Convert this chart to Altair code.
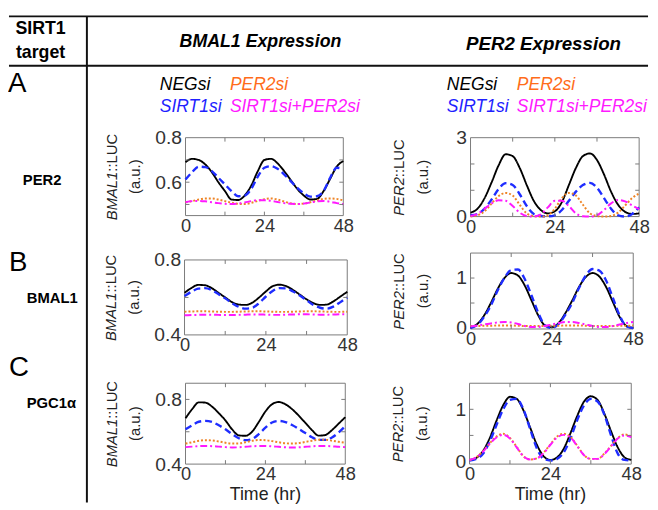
import altair as alt
import pandas as pd

FONT = "Liberation Sans, Arial, sans-serif"
FRAME = "#7a7a7a"
W, H = 650, 494

T = list(range(0, 49, 2))
SERIES = ["NEGsi", "SIRT1si", "PER2si", "SIRT1si+PER2si"]
LINE_COLORS = ["#000000", "#1f2dff", "#ee8426", "#ff19ff"]
LINE_DASH = [[1, 0], [7, 4], [2, 2], [7, 3, 2, 3]]
LINE_WIDTH = [1.9, 2.4, 2.0, 2.0]

LEG_ROW1 = ["NEGsi", "PER2si"]
LEG_ROW2 = ["SIRT1si", "SIRT1si+PER2si"]
LEG_COLORS1 = ["#000000", "#ff6c1a"]
LEG_COLORS2 = ["#1f1fff", "#ff1aff"]

ROW_LETTERS = ["A", "B", "C"]
ROW_TARGETS = ["PER2", "BMAL1", "PGC1\u03b1"]
HEADERS = ["BMAL1 Expression", "PER2 Expression"]
CORNER = ["SIRT1", "target"]

X_LABELS = [0, 24, 48]
X_MINOR = [12, 24, 36]

# ---------- Row A (target PER2) ----------
A_BMAL1 = [
    [0.69, 0.705, 0.70, 0.68, 0.645, 0.60, 0.56, 0.522, 0.52, 0.54, 0.585, 0.65, 0.70,
     0.705, 0.685, 0.65, 0.61, 0.57, 0.54, 0.522, 0.525, 0.56, 0.615, 0.67, 0.695],
    [0.612, 0.645, 0.67, 0.668, 0.65, 0.62, 0.59, 0.56, 0.537, 0.54, 0.57, 0.625, 0.665,
     0.672, 0.66, 0.635, 0.605, 0.575, 0.55, 0.535, 0.537, 0.56, 0.62, 0.665, 0.66],
    [0.51, 0.515, 0.522, 0.527, 0.527, 0.522, 0.515, 0.508, 0.503, 0.502, 0.507, 0.516, 0.524,
     0.527, 0.522, 0.513, 0.505, 0.502, 0.504, 0.51, 0.518, 0.525, 0.527, 0.525, 0.518],
    [0.51, 0.515, 0.516, 0.514, 0.51, 0.506, 0.503, 0.502, 0.504, 0.509, 0.515, 0.519, 0.519,
     0.516, 0.511, 0.506, 0.503, 0.502, 0.504, 0.509, 0.514, 0.516, 0.512, 0.506, 0.501],
]
A_PER2 = [
    [0.15, 0.3, 0.7, 1.3, 1.95, 2.37, 2.3, 1.85, 1.2, 0.6, 0.25, 0.12, 0.2,
     0.55, 1.2, 1.85, 2.3, 2.4, 2.15, 1.6, 0.95, 0.45, 0.18, 0.1, 0.12],
    [0.05, 0.1, 0.3, 0.65, 1.05, 1.27, 1.2, 0.85, 0.4, 0.1, 0.02, 0.01, 0.05,
     0.25, 0.6, 0.95, 1.2, 1.28, 1.1, 0.7, 0.3, 0.05, 0.0, 0.1, 0.35],
    [0.0, 0.05, 0.2, 0.5, 0.78, 0.9, 0.8, 0.45, 0.12, 0.02, 0.0, 0.05, 0.3,
     0.7, 0.9, 0.8, 0.45, 0.12, 0.02, 0.0, 0.02, 0.15, 0.42, 0.7, 0.88],
    [0.02, 0.1, 0.3, 0.5, 0.62, 0.6, 0.4, 0.15, 0.02, 0.0, 0.08, 0.35, 0.6,
     0.6, 0.4, 0.12, 0.01, 0.0, 0.05, 0.25, 0.5, 0.63, 0.58, 0.42, 0.28],
]
# ---------- Row B (target BMAL1) ----------
B_BMAL1 = [
    [0.625, 0.65, 0.667, 0.665, 0.65, 0.625, 0.6, 0.575, 0.562, 0.56, 0.572, 0.6, 0.632,
     0.66, 0.668, 0.66, 0.64, 0.615, 0.59, 0.57, 0.56, 0.562, 0.58, 0.605, 0.63],
    [0.607, 0.63, 0.647, 0.65, 0.64, 0.618, 0.595, 0.57, 0.55, 0.54, 0.545, 0.57, 0.605,
     0.635, 0.65, 0.648, 0.632, 0.61, 0.585, 0.56, 0.545, 0.54, 0.552, 0.575, 0.6],
    [0.524, 0.525, 0.526, 0.526, 0.525, 0.524, 0.523, 0.523, 0.524, 0.525, 0.526, 0.526, 0.525,
     0.524, 0.523, 0.523, 0.524, 0.525, 0.526, 0.526, 0.525, 0.524, 0.523, 0.523, 0.524],
    [0.505, 0.506, 0.507, 0.508, 0.508, 0.507, 0.506, 0.506, 0.507, 0.508, 0.509, 0.509, 0.508,
     0.507, 0.507, 0.508, 0.509, 0.51, 0.51, 0.509, 0.508, 0.508, 0.509, 0.51, 0.51],
]
B_PER2 = [
    [0.01, 0.08, 0.25, 0.5, 0.78, 1.0, 1.1, 1.05, 0.85, 0.55, 0.25, 0.05, 0.02,
     0.1, 0.3, 0.55, 0.82, 1.02, 1.1, 1.03, 0.82, 0.52, 0.22, 0.04, 0.0],
    [0.0, 0.06, 0.22, 0.45, 0.75, 1.0, 1.16, 1.17, 0.98, 0.65, 0.3, 0.05, 0.0,
     0.08, 0.27, 0.5, 0.8, 1.05, 1.18, 1.15, 0.95, 0.6, 0.25, 0.03, 0.0],
    [0.04, 0.04, 0.045, 0.045, 0.05, 0.05, 0.05, 0.045, 0.04, 0.04, 0.04, 0.04, 0.045,
     0.045, 0.05, 0.05, 0.05, 0.045, 0.04, 0.04, 0.04, 0.04, 0.045, 0.045, 0.05],
    [0.03, 0.05, 0.07, 0.09, 0.11, 0.12, 0.11, 0.08, 0.04, 0.02, 0.02, 0.04, 0.07,
     0.1, 0.12, 0.12, 0.1, 0.07, 0.04, 0.02, 0.02, 0.04, 0.07, 0.1, 0.12],
]
# ---------- Row C (target PGC1a) ----------
C_BMAL1 = [
    [0.683, 0.74, 0.782, 0.78, 0.755, 0.715, 0.67, 0.615, 0.578, 0.575, 0.6, 0.66, 0.725,
     0.77, 0.784, 0.77, 0.74, 0.7, 0.655, 0.61, 0.576, 0.58, 0.61, 0.65, 0.69],
    [0.615, 0.64, 0.662, 0.667, 0.66, 0.64, 0.615, 0.585, 0.56, 0.548, 0.555, 0.585, 0.625,
     0.657, 0.667, 0.66, 0.642, 0.618, 0.592, 0.566, 0.55, 0.55, 0.565, 0.595, 0.635],
    [0.527, 0.535, 0.544, 0.548, 0.546, 0.54, 0.532, 0.527, 0.528, 0.535, 0.544, 0.549, 0.548,
     0.542, 0.535, 0.529, 0.527, 0.53, 0.537, 0.545, 0.55, 0.55, 0.545, 0.538, 0.532],
    [0.505, 0.508, 0.511, 0.512, 0.511, 0.508, 0.505, 0.503, 0.504, 0.507, 0.51, 0.512, 0.512,
     0.51, 0.507, 0.504, 0.503, 0.504, 0.507, 0.51, 0.512, 0.512, 0.51, 0.507, 0.505],
]
C_PER2 = [
    [0.03, 0.07, 0.2, 0.45, 0.78, 1.08, 1.24, 1.2, 0.98, 0.65, 0.32, 0.1, 0.03,
     0.08, 0.25, 0.55, 0.88, 1.15, 1.25, 1.18, 0.92, 0.58, 0.27, 0.08, 0.03],
    [0.02, 0.05, 0.15, 0.38, 0.7, 1.0, 1.18, 1.2, 1.0, 0.62, 0.25, 0.05, 0.02,
     0.05, 0.18, 0.45, 0.8, 1.08, 1.2, 1.15, 0.9, 0.5, 0.15, 0.03, 0.02],
    [0.03, 0.08, 0.2, 0.35, 0.48, 0.53, 0.45, 0.28, 0.1, 0.04, 0.06, 0.17, 0.33,
     0.48, 0.53, 0.47, 0.3, 0.12, 0.05, 0.05, 0.15, 0.3, 0.45, 0.52, 0.48],
    [0.03, 0.08, 0.19, 0.34, 0.46, 0.51, 0.44, 0.27, 0.1, 0.04, 0.06, 0.16, 0.32,
     0.46, 0.51, 0.46, 0.29, 0.12, 0.05, 0.05, 0.14, 0.29, 0.44, 0.5, 0.47],
]

ONE = pd.DataFrame({"k": [0]})


def panel(vals, ydom, ylabels, yminor, yfmt, xr, yr, gene, xtitle):
    x0, x1 = xr
    yb, yt = yr
    xs = alt.Scale(domain=[0, 48], range=[x0, x1], nice=False, zero=False)
    ys = alt.Scale(domain=ydom, range=[yb, yt], nice=False, zero=False)
    xaxis = alt.Axis(orient="bottom", offset=yb - H, values=X_LABELS, title=None, grid=False,
                     domain=False, ticks=False, labelPadding=1, labelFontSize=18.5,
                     labelColor="#333333", labelFlush=False, labelOverlap=False, format="d")
    yaxis = alt.Axis(orient="left", offset=-x0, values=ylabels, title=None, grid=False,
                     domain=False, ticks=False, labelPadding=4, labelFontSize=19.5,
                     labelColor="#333333", labelOverlap=False, format=yfmt)
    X = lambda f: alt.X(f, scale=xs, axis=xaxis)
    Y = lambda f: alt.Y(f, scale=ys, axis=yaxis)
    layers = []
    frame = pd.DataFrame({"a": [0], "b": [48], "c": [ydom[0]], "d": [ydom[1]]})
    layers.append(alt.Chart(frame).mark_rect(fillOpacity=0, stroke=FRAME, strokeWidth=1).encode(
        x=X("a:Q"), x2="b", y=Y("c:Q"), y2="d"))
    for i, name in enumerate(SERIES):
        df = pd.DataFrame({"t": T, "v": vals[i], "series": name})
        layers.append(
            alt.Chart(df).mark_line(
                color=LINE_COLORS[i], strokeDash=LINE_DASH[i], strokeWidth=LINE_WIDTH[i],
                interpolate="monotone"
            ).encode(x=X("t:Q"), y=Y("v:Q"))
        )
    xm = pd.DataFrame({"t": X_MINOR})
    ym = pd.DataFrame({"v": yminor})
    for ya, yb2 in [(yb, yb - 4), (yt, yt + 4)]:
        layers.append(alt.Chart(xm).mark_rule(color=FRAME, strokeWidth=1).encode(
            x=X("t:Q"), y=alt.value(ya), y2=alt.value(yb2)))
    for xa, xb in [(x0, x0 + 4), (x1 - 4, x1)]:
        layers.append(alt.Chart(ym).mark_rule(color=FRAME, strokeWidth=1).encode(
            y=Y("v:Q"), x=alt.value(xa), x2=alt.value(xb)))
    # y title: italic gene + "::LUC", then "(a.u.)"
    yc = (yb + yt) / 2
    if gene == "BMAL1":
        l1, l2, split = x0 - 74, x0 - 51, yc - 5
    else:
        l1, l2, split = x0 - 72, x0 - 48, yc
    layers.append(alt.Chart(ONE).mark_text(
        text=gene, angle=270, align="right", baseline="middle",
        fontSize=15, fontStyle="italic", color="#222222", font=FONT
    ).encode(x=alt.value(l1), y=alt.value(split)))
    layers.append(alt.Chart(ONE).mark_text(
        text="::LUC", angle=270, align="left", baseline="middle",
        fontSize=15, color="#222222", font=FONT
    ).encode(x=alt.value(l1), y=alt.value(split)))
    layers.append(alt.Chart(ONE).mark_text(
        text="(a.u.)", angle=270, align="center", baseline="middle",
        fontSize=15, color="#222222", font=FONT
    ).encode(x=alt.value(l2), y=alt.value(yc)))
    if xtitle:
        layers.append(alt.Chart(ONE).mark_text(
            text="Time (hr)", align="center", baseline="middle", fontSize=18,
            color="#222222", font=FONT
        ).encode(x=alt.value((x0 + x1) / 2), y=alt.value(yb + 31)))
    return alt.layer(*layers)


def txt(s, x, y, size, color="#000000", weight="normal", style="normal",
        align="left", baseline="middle"):
    return alt.Chart(ONE).mark_text(
        text=s, fontSize=size, fontWeight=weight, fontStyle=style, color=color,
        align=align, baseline=baseline, font=FONT
    ).encode(x=alt.value(x), y=alt.value(y))


def hrule(y, xa, xb, w=2):
    return alt.Chart(ONE).mark_rule(color="#111111", strokeWidth=w).encode(
        x=alt.value(xa), x2=alt.value(xb), y=alt.value(y))


decor_layers = [
    hrule(5, 1, 649),
    hrule(55, 1, 649),
    alt.Chart(ONE).mark_rule(color="#111111", strokeWidth=2).encode(
        x=alt.value(80), y=alt.value(5), y2=alt.value(498)),
    txt(CORNER[0], 33, 18, 18, weight="bold", align="center"),
    txt(CORNER[1], 33, 47, 18, weight="bold", align="center", baseline="alphabetic"),
    txt(HEADERS[0], 256, 31, 18, weight="bold", style="italic", align="center"),
    txt(HEADERS[1], 543, 33.5, 19, weight="bold", style="italic", align="center"),
    txt(ROW_LETTERS[0], 0, 82, 28, baseline="alphabetic"),
    txt(ROW_LETTERS[1], 1, 263, 28, baseline="alphabetic"),
    txt(ROW_LETTERS[2], 1, 370, 28, baseline="alphabetic"),
    txt(ROW_TARGETS[0], 15, 170.5, 15, weight="bold"),
    txt(ROW_TARGETS[1], 19, 290.5, 15, weight="bold"),
    txt(ROW_TARGETS[2], 19, 397, 15, weight="bold"),
]
for x0 in (154, 445):
    decor_layers.append(txt(LEG_ROW1[0], x0, 75, 17.7, color=LEG_COLORS1[0], style="italic"))
    decor_layers.append(txt(LEG_ROW1[1], x0 + 71, 75, 17.7, color=LEG_COLORS1[1], style="italic"))
    decor_layers.append(txt(LEG_ROW2[0], x0, 97, 17.7, color=LEG_COLORS2[0], style="italic"))
    decor_layers.append(txt(LEG_ROW2[1], x0 + 71, 97, 17.7, color=LEG_COLORS2[1], style="italic"))

panels = [
    panel(A_BMAL1, [0.45, 0.8], [0.6, 0.8], [0.5, 0.6, 0.7], ".1f", (180, 340), (207, 128), "BMAL1", False),
    panel(A_PER2, [0, 3], [0, 3], [1, 2], "d", (469, 640), (208, 128), "PER2", False),
    panel(B_BMAL1, [0.4, 0.8], [0.4, 0.8], [0.6], ".1f", (179, 344), (328, 252), "BMAL1", False),
    panel(B_PER2, [-0.02, 1.5], [0, 1], [0.5, 1], "d", (469, 634), (322, 245), "PER2", False),
    panel(C_BMAL1, [0.4, 0.9], [0.4, 0.8], [0.6, 0.8], ".1f", (180, 342), (459, 377), "BMAL1", True),
    panel(C_PER2, [-0.05, 1.5], [0, 1], [0.5, 1], "d", (468, 632), (459, 377), "PER2", True),
]

chart = alt.layer(*panels, *decor_layers).resolve_scale(
    x="independent", y="independent"
).properties(width=W, height=H, padding=0).configure(font=FONT).configure_view(strokeOpacity=0)

chart.save("out.html", embed_options={"renderer": "svg", "actions": False})
